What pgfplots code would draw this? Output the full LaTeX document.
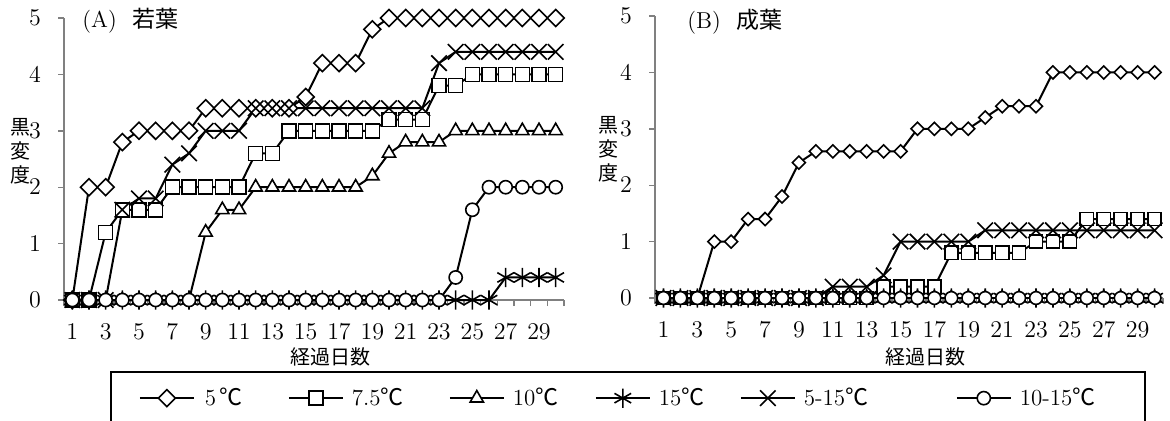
\documentclass[border=0pt]{standalone}
\usepackage{fontspec}
\usepackage{pgfplots}
\usepackage{pgfplotstable}
\pgfplotsset{compat=1.18}
\newfontfamily\cjk{Noto Sans CJK JP}

% (A) young leaves
\pgfplotstableread{
day c5 c75 c10 c15 c515 c1015
1 0 0 0 0 0 0
2 2 0 0 0 0 0
3 2 1.2 0 0 0 0
4 2.8 1.6 0 0 1.6 0
5 3 1.6 0 0 1.8 0
6 3 1.6 0 0 1.8 0
7 3 2 0 0 2.4 0
8 3 2 0 0 2.6 0
9 3.4 2 1.2 0 3 0
10 3.4 2 1.6 0 3 0
11 3.4 2 1.6 0 3 0
12 3.4 2.6 2 0 3.4 0
13 3.4 2.6 2 0 3.4 0
14 3.4 3 2 0 3.4 0
15 3.6 3 2 0 3.4 0
16 4.2 3 2 0 3.4 0
17 4.2 3 2 0 3.4 0
18 4.2 3 2 0 3.4 0
19 4.8 3 2.2 0 3.4 0
20 5 3.2 2.6 0 3.4 0
21 5 3.2 2.8 0 3.4 0
22 5 3.2 2.8 0 3.4 0
23 5 3.8 2.8 0 4.2 0
24 5 3.8 3 0 4.4 0.4
25 5 4 3 0 4.4 1.6
26 5 4 3 0 4.4 2
27 5 4 3 0.4 4.4 2
28 5 4 3 0.4 4.4 2
29 5 4 3 0.4 4.4 2
30 5 4 3 0.4 4.4 2
}\tblA

% (B) mature leaves
\pgfplotstableread{
day c5 c75 c10 c15 c515 c1015
1 0 0 0 0 0 0
2 0 0 0 0 0 0
3 0 0 0 0 0 0
4 1 0 0 0 0 0
5 1 0 0 0 0 0
6 1.4 0 0 0 0 0
7 1.4 0 0 0 0 0
8 1.8 0 0 0 0 0
9 2.4 0 0 0 0 0
10 2.6 0 0 0 0 0
11 2.6 0 0 0 0.2 0
12 2.6 0 0 0 0.2 0
13 2.6 0 0 0 0.2 0
14 2.6 0.2 0 0 0.4 0
15 2.6 0.2 0 0 1 0
16 3 0.2 0 0 1 0
17 3 0.2 0 0 1 0
18 3 0.8 0 0 1 0
19 3 0.8 0 0 1 0
20 3.2 0.8 0 0 1.2 0
21 3.4 0.8 0 0 1.2 0
22 3.4 0.8 0 0 1.2 0
23 3.4 1 0 0 1.2 0
24 4 1 0 0 1.2 0
25 4 1 0 0 1.2 0
26 4 1.4 0 0 1.2 0
27 4 1.4 0 0 1.2 0
28 4 1.4 0 0 1.2 0
29 4 1.4 0 0 1.2 0
30 4 1.4 0 0 1.2 0
}\tblB

\pgfplotsset{
  panel/.style={scale only axis, height=141pt,
    xmin=0.5, xmax=30.5, ymin=0, ymax=5,
    axis x line*=bottom, axis y line*=left,
    axis line style={gray, line width=0.8pt},
    xtick={1,3,...,29}, ytick={0,1,...,5},
    minor xtick={0.5,1.5,...,30.5},
    tick align=outside, major tick length=3pt, minor tick length=3pt,
    tick style={gray, line width=0.7pt},
    major x tick style={draw=none},
    tick label style={font=\fontsize{11.5}{13}\selectfont},
    xticklabel style={yshift=-5.5pt},
    yticklabel style={xshift=-5pt},
    ylabel style={rotate=-90, anchor=center},
    xlabel style={anchor=center},
    clip=false},
  s5/.style={black, line width=1pt, mark=square*, mark size=#1,
    mark options={rotate=45, fill=white, line width=0.8pt}},
  s75/.style={black, line width=1pt, mark=square*, mark size=#1,
    mark options={fill=white, line width=0.8pt}},
  s10/.style={black, line width=1pt, mark=triangle*, mark size=#1,
    mark options={fill=white, line width=0.8pt}},
  s15/.style={black, line width=1pt, mark=asterisk, mark size=#1,
    mark options={line width=0.8pt}},
  s515/.style={black, line width=1pt, mark=x, mark size=#1,
    mark options={line width=0.8pt}},
  s1015/.style={black, line width=1pt, mark=*, mark size=#1,
    mark options={fill=white, line width=0.8pt}},
}

\begin{document}
\begin{tikzpicture}
\path[use as bounding box] (0,0) rectangle (585pt,210pt);

\begin{axis}[panel, at={(32pt,60pt)}, anchor=south west, width=250pt,
  ylabel={\cjk\begin{tabular}{@{}c@{}}黒\\変\\度\end{tabular}},
  ylabel style={at={(axis description cs:-0.088,0.52)}},
  xlabel={\cjk 経過日数},
  xlabel style={at={(axis description cs:0.532,-0.202)}},
  legend columns=6,
  legend style={at={(axis description cs:0.092,-0.252)}, anchor=north west,
    draw=black, line width=0.8pt, inner xsep=14pt, inner ysep=8pt,
    font=\fontsize{11.5}{13}\selectfont,
    /tikz/every even column/.append style={column sep=0pt},
    nodes={inner sep=0pt}},
  legend image code/.code={\draw[mark repeat=2,mark phase=2,#1]
    plot coordinates {(0pt,0pt) (13.5pt,0pt) (27pt,0pt)};}]
\addplot[s5=3pt] table[x=day,y=c5] {\tblA};
\addlegendentry{\makebox[46.5pt][l]{\hspace{5pt}5\,{\cjk ℃}}}
\addplot[s75=3.5pt] table[x=day,y=c75] {\tblA};
\addlegendentry{\makebox[52.5pt][l]{\hspace{4pt}7.5{\cjk ℃}}}
\addplot[s10=3.8pt] table[x=day,y=c10] {\tblA};
\addlegendentry{\makebox[45pt][l]{\hspace{4pt}10{\cjk ℃}}}
\addplot[s15=4.8pt] table[x=day,y=c15] {\tblA};
\addlegendentry{\makebox[44.5pt][l]{\hspace{4pt}15{\cjk ℃}}}
\addplot[s515=5.5pt] table[x=day,y=c515] {\tblA};
\addlegendentry{\makebox[80pt][l]{\hspace{4pt}5-15{\cjk ℃}}}
\addplot[s1015=3.3pt] table[x=day,y=c1015] {\tblA};
\addlegendentry{\makebox[52.5pt][l]{\hspace{4pt}10-15{\cjk ℃}}}
\node[anchor=west, inner sep=0pt, font=\fontsize{11.5}{13}\selectfont]
  at (axis description cs:0.036,0.99) {(A)\hspace{8pt}{\cjk 若葉}};
\end{axis}

\begin{axis}[panel, at={(327.5pt,61pt)}, anchor=south west, width=254pt,
  ylabel={\cjk\begin{tabular}{@{}c@{}}黒\\変\\度\end{tabular}},
  ylabel style={at={(axis description cs:-0.0925,0.52)}},
  xlabel={\cjk 経過日数},
  xlabel style={at={(axis description cs:0.533,-0.209)}}]
\addplot[s5=2.3pt] table[x=day,y=c5] {\tblB};
\addplot[s75=3.3pt] table[x=day,y=c75] {\tblB};
\addplot[s10=3.8pt] table[x=day,y=c10] {\tblB};
\addplot[s15=4.8pt] table[x=day,y=c15] {\tblB};
\addplot[s515=5.5pt] table[x=day,y=c515] {\tblB};
\addplot[s1015=3.2pt] table[x=day,y=c1015] {\tblB};
\node[anchor=west, inner sep=0pt, font=\fontsize{11.5}{13}\selectfont]
  at (axis description cs:0.063,0.979) {(B)\hspace{8pt}{\cjk 成葉}};
\end{axis}
\end{tikzpicture}
\end{document}
